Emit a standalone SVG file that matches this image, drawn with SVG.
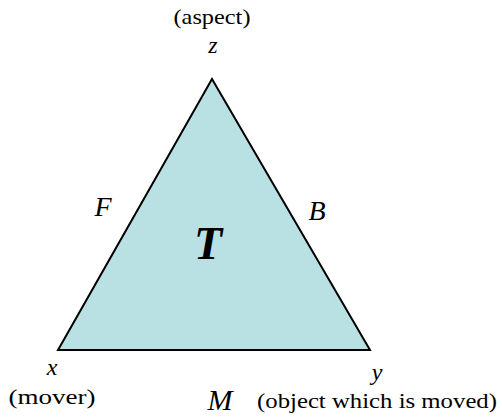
<svg xmlns="http://www.w3.org/2000/svg" width="502" height="418" viewBox="0 0 502 418">
<style>
text{font-family:'Liberation Serif','DejaVu Serif',serif;fill:#000}
.s{font-size:21px}
.i{font-style:italic}
.v{font-size:24px}
</style>
<rect width="502" height="418" fill="#fff"/>
<g id="triangle">
<polygon points="212,79 58,350 370,350" fill="#B9E0E2" stroke="#000" stroke-width="2" stroke-linejoin="miter"/>
</g>
<g id="node-z">
<text class="s" x="212" y="24" text-anchor="middle" textLength="77" lengthAdjust="spacingAndGlyphs">(aspect)</text>
<text class="v i" x="213" y="53" text-anchor="middle">z</text>
</g>
<g id="node-x">
<text class="v i" x="52" y="375" text-anchor="middle">x</text>
<text class="s" x="52" y="404" text-anchor="middle" textLength="87" lengthAdjust="spacingAndGlyphs">(mover)</text>
</g>
<g id="node-y">
<text class="v i" x="377" y="380" text-anchor="middle">y</text>
<text class="s" x="377" y="408" text-anchor="middle" textLength="240" lengthAdjust="spacingAndGlyphs">(object which is moved)</text>
</g>
<g id="labels">
<text class="i" x="103" y="216" font-size="28" text-anchor="middle">F</text>
<text class="i" x="317" y="220" font-size="28" text-anchor="middle">B</text>
<text class="i" x="208" y="259" font-size="46" font-weight="bold" text-anchor="middle">T</text>
<text class="i" x="220" y="410" font-size="30" text-anchor="middle">M</text>
</g>
</svg>
